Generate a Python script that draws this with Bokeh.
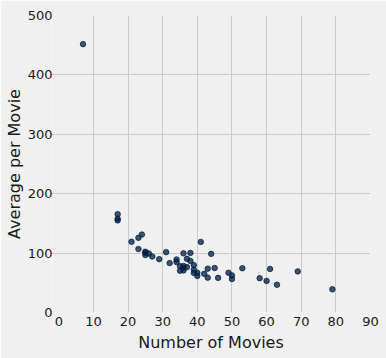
from bokeh.plotting import figure
from bokeh.models import Range1d, FixedTicker
from bokeh.embed import file_html
from bokeh.resources import INLINE

number_of_movies = [41, 69, 61, 44, 53, 38, 36, 45, 58, 37,
                    38, 49, 60, 43, 7, 31, 24, 50, 39, 79,
                    34, 63, 23, 34, 37, 36, 17, 50, 39, 42,
                    35, 36, 17, 46, 40, 32, 17, 29, 39, 26,
                    25, 36, 27, 43, 25, 21, 40, 35, 23, 25]
average_per_movie = [118.8, 69.2, 73.3, 98.7, 74.5, 100.3, 99.6, 74.9, 57.8, 90.3,
                     86.7, 66.9, 53.2, 73.8, 451.8, 101.6, 131.2, 62.5, 79.7, 39.0,
                     89.2, 46.7, 125.7, 84.9, 76.4, 78.4, 165.6, 56.3, 71.9, 65.1,
                     77.9, 75.4, 157.8, 58.3, 67.0, 83.2, 155.0, 89.8, 66.7, 99.3,
                     102.3, 70.8, 94.3, 58.7, 100.7, 119.1, 61.6, 70.4, 106.9, 96.7]

x_ticks = [0, 10, 20, 30, 40, 50, 60, 70, 80, 90]
y_ticks = [0, 100, 200, 300, 400, 500]

BG = "#f0f0f0"
FONT = "DejaVu Sans"

p = figure(width=386, height=358, output_backend="svg", toolbar_location=None,
           x_range=Range1d(-2.1, 90), y_range=Range1d(0, 500),
           background_fill_color=BG, border_fill_color=BG,
           min_border_left=51, min_border_right=16, min_border_top=15, min_border_bottom=46)
p.outline_line_color = None

p.scatter(number_of_movies, average_per_movie, size=5.5, marker="circle",
          fill_color="#001e42", line_color="#001e42", fill_alpha=0.75, line_alpha=0.75)

p.xaxis.ticker = FixedTicker(ticks=x_ticks)
p.yaxis.ticker = FixedTicker(ticks=y_ticks)
p.xgrid.ticker = FixedTicker(ticks=x_ticks[1:-1])
p.ygrid.ticker = FixedTicker(ticks=y_ticks[1:-1])
for g in (p.xgrid, p.ygrid):
    g.grid_line_color = "#cbcbcb"
    g.grid_line_width = 1

p.xaxis.axis_label = "Number of Movies"
p.yaxis.axis_label = "Average per Movie"
for ax in (p.xaxis, p.yaxis):
    ax.axis_line_color = None
    ax.major_tick_line_color = None
    ax.minor_tick_line_color = None
    ax.major_tick_out = 0
    ax.major_tick_in = 0
    ax.major_label_text_font = FONT
    ax.major_label_text_font_size = "13px"
    ax.major_label_text_color = "#1a1a1a"
    ax.axis_label_text_font = FONT
    ax.axis_label_text_font_size = "16px"
    ax.axis_label_text_font_style = "normal"
    ax.axis_label_text_color = "#1a1a1a"
p.xaxis.major_label_standoff = 4
p.xaxis.axis_label_standoff = 4
p.yaxis.major_label_standoff = -1
p.yaxis.axis_label_standoff = 1

open("out.html", "w").write(file_html(p, INLINE))
